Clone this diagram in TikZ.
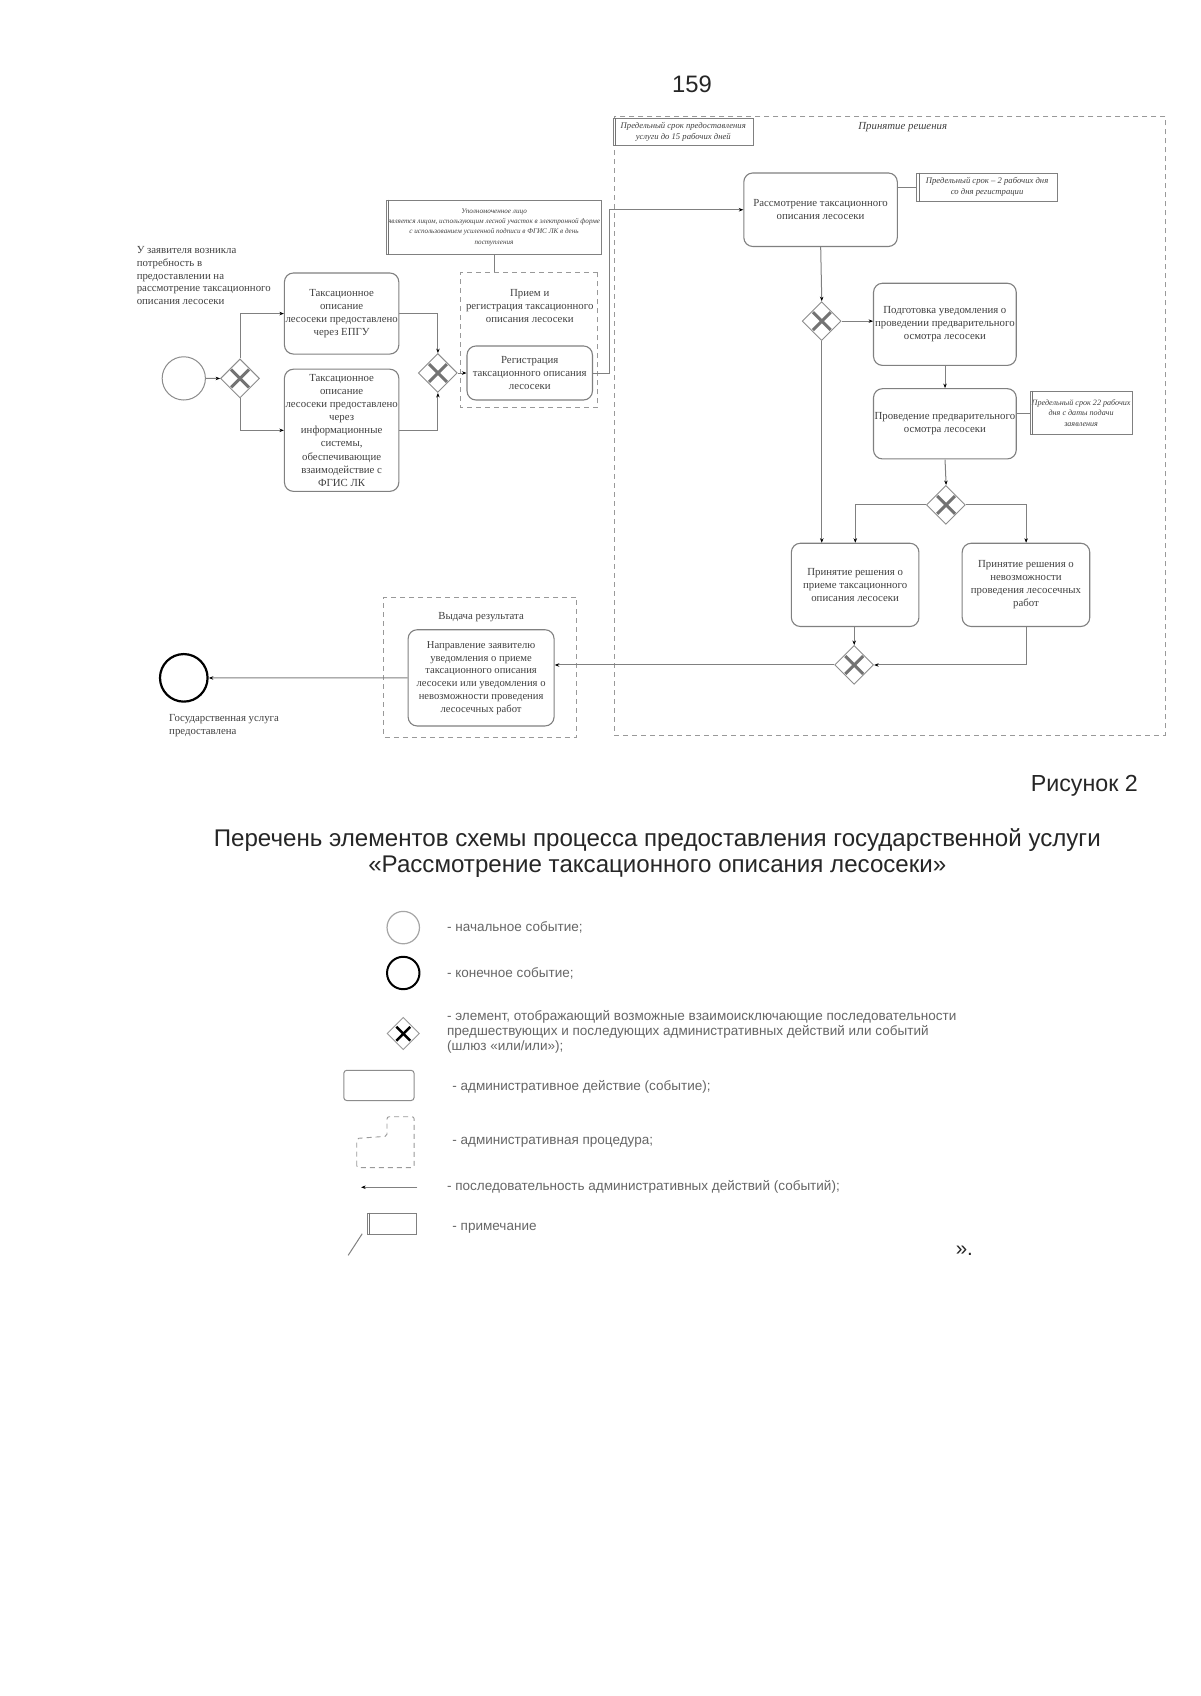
\documentclass[tikz,border=0pt]{standalone}
\usepackage{fontspec}
\setmainfont{Liberation Serif}
\newfontfamily\arialf{Liberation Sans}
\usetikzlibrary{shapes.geometric,arrows.meta,calc}
\begin{document}
\begin{tikzpicture}[x=1pt,y=-1pt,
 ln/.style={draw=black!50, line width=1pt},
 act/.style={draw=black!50, line width=1.1pt, rounded corners=9pt, align=center, inner sep=1pt, fill=white, text=black!75, font=\fontsize{10}{12}\selectfont},
 proc/.style={draw=black!40, dash pattern=on 5pt off 4pt, line width=0.9pt, inner sep=0pt},
 gw/.style={diamond, draw=black!45, line width=0.9pt, minimum width=36pt, minimum height=36pt, inner sep=0pt, fill=white},
 xline/.style={draw=black!55, line width=3pt, shorten >=1.5pt, shorten <=1.5pt},
 flow/.style={draw=black!50, line width=1pt, -{Stealth[length=4.5pt,width=3.5pt,black]}},
 note/.style={draw=black!50, line width=0.8pt, align=center, inner sep=1.5pt, fill=white, text=black!75, font=\fontsize{8}{9.8}\selectfont\itshape},
 lbl/.style={align=center, text=black!75, font=\fontsize{10}{12}\selectfont},
 leg/.style={anchor=west, align=left, text=black!60, font=\arialf\fontsize{12.5}{14}\selectfont},
]
\fill[white] (0,0) rectangle (1200,1696);
\useasboundingbox (0,0) rectangle (1200,1696);
\begin{scope}[scale=1.0811, transform shape]

% page number
\node[text=black!85, font=\arialf\fontsize{22}{25}\selectfont] (pn) at (640,78) {159};

% procedures (dashed)
\node[proc, minimum width=510pt, minimum height=572pt] (proc3) at (823,394) {};
\node[proc, minimum width=127pt, minimum height=125pt] (proc1) at (489.5,314.5) {};
\node[proc, minimum width=178pt, minimum height=129pt] (proc2) at (444,617.5) {};
\node[lbl, font=\fontsize{10}{12}\selectfont\itshape] (t3) at (835,118) {Принятие решения};
\node[lbl] (t1) at (490,283) {Прием и\\регистрация таксационного\\описания лесосеки};
\node[lbl] (t2) at (445,571) {Выдача результата};

% left text
\node[anchor=north west, align=left, text=black!75, font=\fontsize{10}{12}\selectfont] (need) at (123,224)
 {У заявителя возникла\\потребность в\\предоставлении на\\рассмотрение таксационного\\описания лесосеки};

% events
\node[circle, draw=black!45, line width=1pt, minimum size=40pt, inner sep=0pt] (start) at (170,350) {};
\node[circle, draw=black, line width=2.2pt, minimum size=44pt, inner sep=0pt] (end) at (170,627) {};
\node[anchor=north west, align=left, text=black!75, font=\fontsize{10}{12}\selectfont] (endt) at (153,657)
 {Государственная услуга\\предоставлена};

% gateways
\node[gw] (g1) at (222,350) {};
\node[gw] (g4) at (405,345) {};
\node[gw] (g2) at (760,297) {};
\node[gw] (g3) at (875,467) {};
\node[gw] (g5) at (790,615) {};
\foreach \g in {g1,g2,g3,g4,g5}{
 \draw[xline] ($(\g.north)!0.5!(\g.west)$) -- ($(\g.south)!0.5!(\g.east)$);
 \draw[xline] ($(\g.north)!0.5!(\g.east)$) -- ($(\g.south)!0.5!(\g.west)$);
}

% activities
\node[act, minimum width=103pt, minimum height=75pt] (boxA) at (316,290)
 {Таксационное\\описание\\лесосеки предоставлено\\через ЕПГУ};
\node[act, minimum width=103pt, minimum height=113pt, font=\fontsize{10}{12.2}\selectfont] (boxB) at (316,398)
 {Таксационное\\описание\\лесосеки предоставлено\\через\\информационные\\системы,\\обеспечивающие\\взаимодействие с\\ФГИС ЛК};
\node[act, minimum width=116pt, minimum height=50pt] (reg) at (490,345)
 {Регистрация\\таксационного описания\\лесосеки};
\node[act, minimum width=142pt, minimum height=68pt] (rass) at (759,194)
 {Рассмотрение таксационного\\описания лесосеки};
\node[act, minimum width=132pt, minimum height=76pt] (podg) at (874,300)
 {Подготовка уведомления о\\проведении предварительного\\осмотра лесосеки};
\node[act, minimum width=132pt, minimum height=65pt] (prov) at (874,392)
 {Проведение предварительного\\осмотра лесосеки};
\node[act, minimum width=118pt, minimum height=77pt] (priem) at (791,541)
 {Принятие решения о\\приеме таксационного\\описания лесосеки};
\node[act, minimum width=118pt, minimum height=77pt] (nevozm) at (949,541)
 {Принятие решения о\\невозможности\\проведения лесосечных\\работ};
\node[act, minimum width=135pt, minimum height=89pt, font=\fontsize{9.8}{11.8}\selectfont] (napr) at (445,627)
 {Направление заявителю\\уведомления о приеме\\таксационного описания\\лесосеки или уведомления о\\невозможности проведения\\лесосечных работ};

% notes
\node[note, minimum width=195pt, minimum height=50pt, font=\fontsize{6.6}{9.5}\selectfont\itshape] (note0) at (457,210)
 {Уполномоченное лицо\\является лицом, использующим лесной участок в электронной форме\\с использованием усиленной подписи в ФГИС ЛК в день\\поступления};
\node[note, minimum width=130pt, minimum height=25pt] (note1) at (632,122)
 {Предельный срок предоставления\\услуги до 15 рабочих дней};
\node[note, minimum width=130pt, minimum height=26pt] (note2) at (913,173)
 {Предельный срок – 2 рабочих дня\\со дня регистрации};
\node[note, minimum width=90pt, minimum height=40pt, font=\fontsize{7.5}{9.8}\selectfont\itshape] (note3) at (1000,382)
 {Предельный срок 22 рабочих\\дня с даты подачи\\заявления};
\foreach \n in {note0,note1,note2,note3}{
 \draw[draw=black!55, line width=1.2pt] ($(\n.north west)+(2.5,0)$) -- ($(\n.south west)+(2.5,0)$);
}

% connectors
\draw[flow] (start) -- (g1);
\draw[flow] (g1.north) |- (boxA.west);
\draw[flow] (g1.south) |- (boxB.west);
\draw[flow] (boxA.east) -| (g4.north);
\draw[flow] (boxB.east) -| (g4.south);
\draw[flow] (g4.east) -- (reg.west);
\draw[flow] (reg.east) -- ++(15,0) |- (rass.west);
\draw[flow] (rass.south) -- (g2.north);
\draw[flow] (g2.east) -- (g2.east -| podg.west);
\draw[flow] (g2.south) -- (g2.south |- priem.north);
\draw[flow] (podg.south) -- (prov.north);
\draw[flow] (prov.south) -- (g3.north);
\draw[flow] (g3.west) -| (priem.north);
\draw[flow] (g3.east) -| (nevozm.north);
\draw[flow] (priem.south) -- (priem.south -| g5.north) -- (g5.north);
\draw[flow] (nevozm.south) |- (g5.east);
\draw[flow] (g5.west) -- (g5.west -| napr.east);
\draw[flow] (napr.west) -- (end);
\draw[ln] (note2.west -| rass.east) -- (note2.west);
\draw[ln] (prov.east |- note3.west) -- (note3.west);
\draw[ln] (note0.south) -- (note0.south |- proc1.north);

% caption and title
\node[anchor=east, text=black!85, font=\arialf\fontsize{21.5}{24}\selectfont] (fig) at (1056,727) {Рисунок 2};
\node[align=center, text=black!85, font=\arialf\fontsize{22.3}{24}\selectfont] (title) at (608,789)
 {Перечень элементов схемы процесса предоставления государственной услуги\\«Рассмотрение таксационного описания лесосеки»};

% legend
\node[circle, draw=black!35, line width=1.2pt, minimum size=30pt, inner sep=0pt] (lstart) at (373,858) {};
\node[leg] (lt1) at (410,858) {- начальное событие;};
\node[circle, draw=black, line width=2pt, minimum size=30pt, inner sep=0pt] (lend) at (373,900) {};
\node[leg] (lt2) at (410,900) {- конечное событие;};
\node[gw, minimum width=30pt, minimum height=30pt, draw=black!40] (lgw) at (373,956) {};
\draw[line width=2.5pt, black, shorten >=2pt, shorten <=2pt] ($(lgw.north)!0.5!(lgw.west)$) -- ($(lgw.south)!0.5!(lgw.east)$);
\draw[line width=2.5pt, black, shorten >=2pt, shorten <=2pt] ($(lgw.north)!0.5!(lgw.east)$) -- ($(lgw.south)!0.5!(lgw.west)$);
\node[leg, anchor=north west] (lt3) at (410,931)
 {- элемент, отображающий возможные взаимоисключающие последовательности\\предшествующих и последующих административных действий или событий\\(шлюз «или/или»);};
\node[draw=black!45, line width=1pt, rounded corners=3pt, minimum width=65pt, minimum height=28pt] (lact) at (350.5,1004) {};
\node[leg] (lt4) at (415,1005) {- административное действие (событие);};
\draw[proc, rounded corners=2pt] (330,1080) -- (330,1053) -- (358,1051) -- (358,1033) -- (383,1033) -- (383,1080) -- cycle;
\node[leg] (lt5) at (415,1057) {- административная процедура;};
\coordinate (la1) at (386,1098);
\coordinate (la2) at (334,1098);
\draw[flow] (la1) -- (la2);
\node[leg] (lt6) at (410,1098) {- последовательность административных действий (событий);};
\node[draw=black!50, line width=1pt, minimum width=45pt, minimum height=20pt] (lnote) at (362.5,1132) {};
\draw[draw=black!55, line width=1.2pt] ($(lnote.north west)+(2.5,0)$) -- ($(lnote.south west)+(2.5,0)$);
\coordinate (ls1) at (322,1161);
\coordinate (ls2) at (335,1141);
\draw[ln] (ls1) -- (ls2);
\node[leg] (lt7) at (415,1136) {- примечание};
\node[text=black!85, font=\arialf\fontsize{19}{22}\selectfont] (q) at (892,1157) {».};
\end{scope}
\end{tikzpicture}
\end{document}
